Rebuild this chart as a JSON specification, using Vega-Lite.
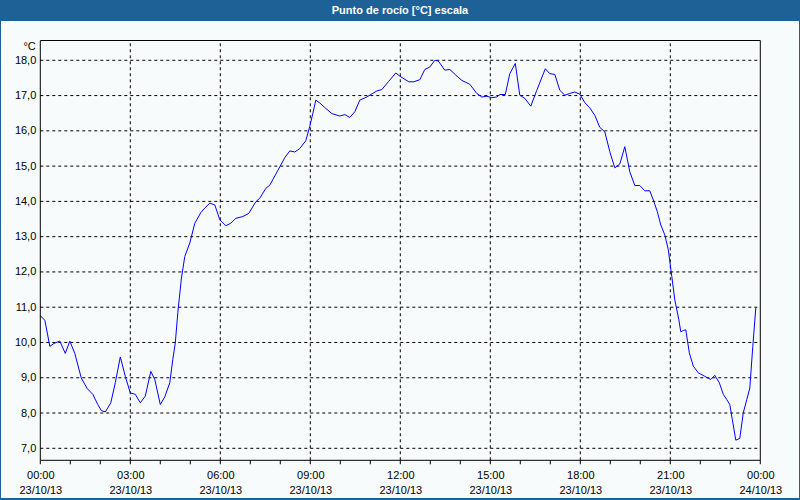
{
  "$schema": "https://vega.github.io/schema/vega-lite/v6.json",
  "width": 798,
  "height": 477,
  "autosize": {"type": "none"},
  "padding": {"left": 1, "top": 21, "right": 1, "bottom": 2},
  "background": "#1e6196",
  "view": {"fill": "#f8fbfb", "stroke": null},
  "config": {"font": "Liberation Sans", "axis": {"labelOverlap": false}},
  "title": {"text": "Punto de rocío [°C] escala", "color": "#ffffff", "font": "Liberation Sans", "fontSize": 11, "fontWeight": "bold", "anchor": "middle", "frame": "group", "baseline": "middle", "offset": -1},
  "datasets": {
    "dew": [
      {"t": "2013-10-23T00:00", "v": 10.76},
      {"t": "2013-10-23T00:09", "v": 10.63},
      {"t": "2013-10-23T00:14", "v": 10.27},
      {"t": "2013-10-23T00:19", "v": 9.89},
      {"t": "2013-10-23T00:27", "v": 9.97},
      {"t": "2013-10-23T00:39", "v": 10.04},
      {"t": "2013-10-23T00:50", "v": 9.69},
      {"t": "2013-10-23T00:59", "v": 10.04},
      {"t": "2013-10-23T01:09", "v": 9.69},
      {"t": "2013-10-23T01:22", "v": 8.99},
      {"t": "2013-10-23T01:34", "v": 8.69},
      {"t": "2013-10-23T01:45", "v": 8.53},
      {"t": "2013-10-23T01:55", "v": 8.24},
      {"t": "2013-10-23T02:02", "v": 8.07},
      {"t": "2013-10-23T02:10", "v": 8.03},
      {"t": "2013-10-23T02:21", "v": 8.29},
      {"t": "2013-10-23T02:30", "v": 8.86},
      {"t": "2013-10-23T02:40", "v": 9.59},
      {"t": "2013-10-23T02:50", "v": 9.04},
      {"t": "2013-10-23T03:00", "v": 8.57},
      {"t": "2013-10-23T03:10", "v": 8.53},
      {"t": "2013-10-23T03:20", "v": 8.29},
      {"t": "2013-10-23T03:30", "v": 8.48},
      {"t": "2013-10-23T03:41", "v": 9.18},
      {"t": "2013-10-23T03:49", "v": 8.95},
      {"t": "2013-10-23T04:00", "v": 8.24},
      {"t": "2013-10-23T04:09", "v": 8.46},
      {"t": "2013-10-23T04:19", "v": 8.86},
      {"t": "2013-10-23T04:25", "v": 9.52},
      {"t": "2013-10-23T04:30", "v": 9.99},
      {"t": "2013-10-23T04:35", "v": 10.84},
      {"t": "2013-10-23T04:42", "v": 11.8},
      {"t": "2013-10-23T04:49", "v": 12.44},
      {"t": "2013-10-23T04:59", "v": 12.82},
      {"t": "2013-10-23T05:09", "v": 13.38},
      {"t": "2013-10-23T05:21", "v": 13.68},
      {"t": "2013-10-23T05:29", "v": 13.81},
      {"t": "2013-10-23T05:39", "v": 13.95},
      {"t": "2013-10-23T05:49", "v": 13.9},
      {"t": "2013-10-23T05:59", "v": 13.48},
      {"t": "2013-10-23T06:11", "v": 13.31},
      {"t": "2013-10-23T06:21", "v": 13.38},
      {"t": "2013-10-23T06:31", "v": 13.52},
      {"t": "2013-10-23T06:45", "v": 13.57},
      {"t": "2013-10-23T06:57", "v": 13.66},
      {"t": "2013-10-23T07:11", "v": 13.99},
      {"t": "2013-10-23T07:19", "v": 14.09},
      {"t": "2013-10-23T07:31", "v": 14.37},
      {"t": "2013-10-23T07:39", "v": 14.46},
      {"t": "2013-10-23T07:59", "v": 14.98},
      {"t": "2013-10-23T08:09", "v": 15.24},
      {"t": "2013-10-23T08:19", "v": 15.43},
      {"t": "2013-10-23T08:29", "v": 15.4},
      {"t": "2013-10-23T08:39", "v": 15.5},
      {"t": "2013-10-23T08:51", "v": 15.72},
      {"t": "2013-10-23T08:59", "v": 16.13},
      {"t": "2013-10-23T09:05", "v": 16.49},
      {"t": "2013-10-23T09:11", "v": 16.87},
      {"t": "2013-10-23T09:19", "v": 16.79},
      {"t": "2013-10-23T09:29", "v": 16.66},
      {"t": "2013-10-23T09:43", "v": 16.49},
      {"t": "2013-10-23T09:59", "v": 16.42},
      {"t": "2013-10-23T10:09", "v": 16.46},
      {"t": "2013-10-23T10:19", "v": 16.38},
      {"t": "2013-10-23T10:29", "v": 16.54},
      {"t": "2013-10-23T10:39", "v": 16.87},
      {"t": "2013-10-23T10:53", "v": 16.96},
      {"t": "2013-10-23T11:13", "v": 17.13},
      {"t": "2013-10-23T11:23", "v": 17.17},
      {"t": "2013-10-23T11:36", "v": 17.39},
      {"t": "2013-10-23T11:51", "v": 17.64},
      {"t": "2013-10-23T11:59", "v": 17.55},
      {"t": "2013-10-23T12:17", "v": 17.39},
      {"t": "2013-10-23T12:27", "v": 17.39},
      {"t": "2013-10-23T12:39", "v": 17.45},
      {"t": "2013-10-23T12:49", "v": 17.74},
      {"t": "2013-10-23T12:59", "v": 17.81},
      {"t": "2013-10-23T13:09", "v": 18.0},
      {"t": "2013-10-23T13:16", "v": 17.98},
      {"t": "2013-10-23T13:29", "v": 17.72},
      {"t": "2013-10-23T13:39", "v": 17.74},
      {"t": "2013-10-23T13:51", "v": 17.58},
      {"t": "2013-10-23T14:03", "v": 17.43},
      {"t": "2013-10-23T14:19", "v": 17.32},
      {"t": "2013-10-23T14:33", "v": 17.06},
      {"t": "2013-10-23T14:43", "v": 16.96},
      {"t": "2013-10-23T14:53", "v": 16.98},
      {"t": "2013-10-23T15:03", "v": 16.94},
      {"t": "2013-10-23T15:13", "v": 16.96},
      {"t": "2013-10-23T15:19", "v": 17.03},
      {"t": "2013-10-23T15:30", "v": 17.03},
      {"t": "2013-10-23T15:39", "v": 17.62},
      {"t": "2013-10-23T15:50", "v": 17.91},
      {"t": "2013-10-23T15:59", "v": 17.01},
      {"t": "2013-10-23T16:09", "v": 16.92},
      {"t": "2013-10-23T16:21", "v": 16.7},
      {"t": "2013-10-23T16:33", "v": 17.15},
      {"t": "2013-10-23T16:50", "v": 17.76},
      {"t": "2013-10-23T16:59", "v": 17.62},
      {"t": "2013-10-23T17:09", "v": 17.6},
      {"t": "2013-10-23T17:19", "v": 17.15},
      {"t": "2013-10-23T17:29", "v": 17.01},
      {"t": "2013-10-23T17:39", "v": 17.06},
      {"t": "2013-10-23T17:49", "v": 17.1},
      {"t": "2013-10-23T17:59", "v": 17.04},
      {"t": "2013-10-23T18:09", "v": 16.8},
      {"t": "2013-10-23T18:19", "v": 16.65},
      {"t": "2013-10-23T18:29", "v": 16.44},
      {"t": "2013-10-23T18:39", "v": 16.1},
      {"t": "2013-10-23T18:49", "v": 15.97},
      {"t": "2013-10-23T18:59", "v": 15.41},
      {"t": "2013-10-23T19:09", "v": 14.95},
      {"t": "2013-10-23T19:19", "v": 15.06},
      {"t": "2013-10-23T19:29", "v": 15.55},
      {"t": "2013-10-23T19:39", "v": 14.84},
      {"t": "2013-10-23T19:49", "v": 14.45},
      {"t": "2013-10-23T19:59", "v": 14.45},
      {"t": "2013-10-23T20:09", "v": 14.3},
      {"t": "2013-10-23T20:19", "v": 14.3},
      {"t": "2013-10-23T20:26", "v": 14.04},
      {"t": "2013-10-23T20:34", "v": 13.71},
      {"t": "2013-10-23T20:41", "v": 13.33},
      {"t": "2013-10-23T20:49", "v": 13.05},
      {"t": "2013-10-23T20:56", "v": 12.63},
      {"t": "2013-10-23T21:03", "v": 11.87},
      {"t": "2013-10-23T21:09", "v": 11.21},
      {"t": "2013-10-23T21:17", "v": 10.65},
      {"t": "2013-10-23T21:21", "v": 10.3},
      {"t": "2013-10-23T21:26", "v": 10.34},
      {"t": "2013-10-23T21:31", "v": 10.36},
      {"t": "2013-10-23T21:38", "v": 9.71},
      {"t": "2013-10-23T21:46", "v": 9.33},
      {"t": "2013-10-23T21:56", "v": 9.14},
      {"t": "2013-10-23T22:09", "v": 9.04},
      {"t": "2013-10-23T22:21", "v": 8.95},
      {"t": "2013-10-23T22:29", "v": 9.07},
      {"t": "2013-10-23T22:38", "v": 8.86},
      {"t": "2013-10-23T22:46", "v": 8.53},
      {"t": "2013-10-23T22:53", "v": 8.38},
      {"t": "2013-10-23T22:59", "v": 8.24},
      {"t": "2013-10-23T23:04", "v": 7.82},
      {"t": "2013-10-23T23:11", "v": 7.23},
      {"t": "2013-10-23T23:19", "v": 7.28},
      {"t": "2013-10-23T23:26", "v": 8.01},
      {"t": "2013-10-23T23:33", "v": 8.38},
      {"t": "2013-10-23T23:39", "v": 8.71},
      {"t": "2013-10-23T23:45", "v": 9.89},
      {"t": "2013-10-23T23:51", "v": 10.98}
    ],
    "ylev": [{"v": 7}, {"v": 8}, {"v": 9}, {"v": 10}, {"v": 11}, {"v": 12}, {"v": 13}, {"v": 14}, {"v": 15}, {"v": 16}, {"v": 17}, {"v": 18}],
    "xlev": [{"t": "2013-10-23T03:00"}, {"t": "2013-10-23T06:00"}, {"t": "2013-10-23T09:00"}, {"t": "2013-10-23T12:00"}, {"t": "2013-10-23T15:00"}, {"t": "2013-10-23T18:00"}, {"t": "2013-10-23T21:00"}],
    "hours": [
      {"t": "2013-10-23T00:00"}, {"t": "2013-10-23T01:00"}, {"t": "2013-10-23T02:00"}, {"t": "2013-10-23T03:00"}, {"t": "2013-10-23T04:00"},
      {"t": "2013-10-23T05:00"}, {"t": "2013-10-23T06:00"}, {"t": "2013-10-23T07:00"}, {"t": "2013-10-23T08:00"}, {"t": "2013-10-23T09:00"},
      {"t": "2013-10-23T10:00"}, {"t": "2013-10-23T11:00"}, {"t": "2013-10-23T12:00"}, {"t": "2013-10-23T13:00"}, {"t": "2013-10-23T14:00"},
      {"t": "2013-10-23T15:00"}, {"t": "2013-10-23T16:00"}, {"t": "2013-10-23T17:00"}, {"t": "2013-10-23T18:00"}, {"t": "2013-10-23T19:00"},
      {"t": "2013-10-23T20:00"}, {"t": "2013-10-23T21:00"}, {"t": "2013-10-23T22:00"}, {"t": "2013-10-23T23:00"}, {"t": "2013-10-24T00:00"}
    ]
  },
  "layer": [
    {
      "data": {"values": [{}]},
      "mark": {"type": "rect", "fill": "#f8fbfb", "stroke": null},
      "encoding": {
        "x": {"datum": {"year": 2013, "month": 10, "date": 23, "hours": 0}, "type": "temporal",
          "scale": {"domain": [{"year": 2013, "month": 10, "date": 22, "hours": 22, "minutes": 41, "seconds": 24}, {"year": 2013, "month": 10, "date": 24, "hours": 1, "minutes": 17, "seconds": 24}], "nice": false},
          "axis": {
            "values": [
              {"year": 2013, "month": 10, "date": 23, "hours": 0},
              {"year": 2013, "month": 10, "date": 23, "hours": 3},
              {"year": 2013, "month": 10, "date": 23, "hours": 6},
              {"year": 2013, "month": 10, "date": 23, "hours": 9},
              {"year": 2013, "month": 10, "date": 23, "hours": 12},
              {"year": 2013, "month": 10, "date": 23, "hours": 15},
              {"year": 2013, "month": 10, "date": 23, "hours": 18},
              {"year": 2013, "month": 10, "date": 23, "hours": 21},
              {"year": 2013, "month": 10, "date": 24, "hours": 0}
            ],
            "labelExpr": "[timeFormat(datum.value, '%H:%M'), timeFormat(datum.value, '%d/%m/%y')]",
            "offset": -37.7,
            "domain": false,
            "grid": false,
            "ticks": false,
            "labelPadding": 9,
            "labelLineHeight": 15,
            "labelFont": "Liberation Sans",
            "labelFontSize": 11,
            "labelColor": "#000000",
            "labelOverlap": false,
            "labelFlush": false,
            "labelBound": false,
            "labelAngle": 0,
            "title": null,
            "zindex": 1
          }
        },
        "x2": {"datum": {"year": 2013, "month": 10, "date": 24, "hours": 0}},
        "y": {"datum": 18.561, "type": "quantitative",
          "scale": {"domain": [5.591, 19.114], "nice": false, "zero": false},
          "axis": {
            "values": [7, 8, 9, 10, 11, 12, 13, 14, 15, 16, 17, 18],
            "labelExpr": "replace(format(datum.value, '.1f'), '.', ',')",
            "offset": -39.3,
            "domain": false,
            "grid": false,
            "ticks": false,
            "labelPadding": 4.5,
            "labelFont": "Liberation Sans",
            "labelFontSize": 11,
            "labelColor": "#000000",
            "labelOverlap": false,
            "labelFlush": false,
            "labelBound": false,
            "title": "°C",
            "titleAngle": 0,
            "titleAlign": "right",
            "titleBaseline": "middle",
            "titleX": -5,
            "titleY": 25,
            "titleFont": "Liberation Sans",
            "titleFontSize": 11,
            "titleFontWeight": "normal",
            "titleColor": "#000000",
            "zindex": 1
          }
        },
        "y2": {"datum": 6.66}
      }
    },
    {
      "data": {"name": "ylev"},
      "mark": {"type": "rule", "color": "#000000", "strokeWidth": 1, "strokeDash": [3, 3]},
      "encoding": {
        "y": {"field": "v", "type": "quantitative"},
        "x": {"datum": {"year": 2013, "month": 10, "date": 23, "hours": 0}, "type": "temporal"},
        "x2": {"datum": {"year": 2013, "month": 10, "date": 24, "hours": 0}}
      }
    },
    {
      "data": {"name": "xlev"},
      "mark": {"type": "rule", "color": "#000000", "strokeWidth": 1, "strokeDash": [3, 3]},
      "encoding": {
        "x": {"field": "t", "type": "temporal"},
        "y": {"datum": 6.66, "type": "quantitative"},
        "y2": {"datum": 18.561}
      }
    },
    {
      "data": {"name": "hours"},
      "mark": {"type": "rule", "color": "#000000", "strokeWidth": 1},
      "encoding": {
        "x": {"field": "t", "type": "temporal"},
        "y": {"datum": 6.66, "type": "quantitative"},
        "y2": {"datum": 6.547}
      }
    },
    {
      "data": {"name": "dew"},
      "mark": {"type": "line", "color": "#0000ff", "strokeWidth": 1, "interpolate": "linear"},
      "encoding": {
        "x": {"field": "t", "type": "temporal"},
        "y": {"field": "v", "type": "quantitative"}
      }
    },
    {
      "data": {"values": [{}]},
      "mark": {"type": "rect", "fill": null, "fillOpacity": 0, "stroke": "#000000", "strokeWidth": 1},
      "encoding": {
        "x": {"datum": {"year": 2013, "month": 10, "date": 23, "hours": 0}, "type": "temporal"},
        "x2": {"datum": {"year": 2013, "month": 10, "date": 24, "hours": 0}},
        "y": {"datum": 18.561, "type": "quantitative"},
        "y2": {"datum": 6.66}
      }
    }
  ]
}
